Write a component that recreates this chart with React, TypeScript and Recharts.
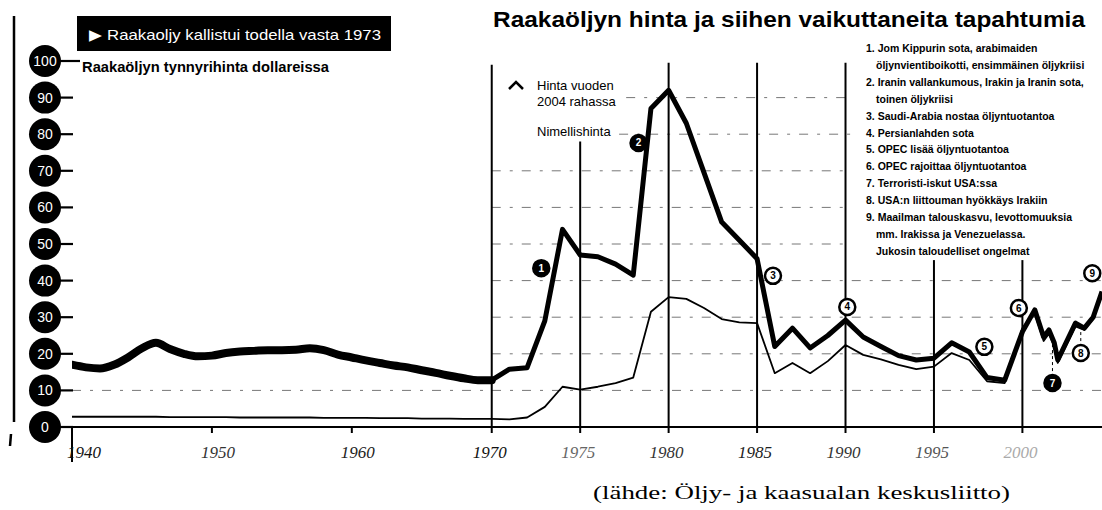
import React from 'react';
import {
  LineChart,
  Line,
  XAxis,
  YAxis,
  ReferenceLine,
  ReferenceDot,
} from 'recharts';

// Years of the readings (a few half-year points after 2000 to keep the zigzag)
const years = [
  1940, 1941, 1942, 1943, 1944, 1945, 1946, 1947, 1948, 1949,
  1950, 1951, 1952, 1953, 1954, 1955, 1956, 1957, 1958, 1959,
  1960, 1961, 1962, 1963, 1964, 1965, 1966, 1967, 1968, 1969,
  1970, 1971, 1972, 1973, 1974, 1975, 1976, 1977, 1978, 1979,
  1980, 1981, 1982, 1983, 1984, 1985, 1986, 1987, 1988, 1989,
  1990, 1991, 1992, 1993, 1994, 1995, 1996, 1997, 1998, 1999,
  2000, 2000.7, 2001.2, 2001.5, 2001.8, 2002, 2003, 2003.5, 2004, 2004.5,
];

// Hinta vuoden 2004 rahassa
const realPrice = [
  17, 16.3, 16, 17, 19, 21.5, 23, 21.3, 20, 19.3,
  19.5, 20.2, 20.6, 20.8, 21, 21, 21.1, 21.5, 21, 19.8,
  19, 18.2, 17.5, 16.8, 16.3, 15.5, 14.8, 14, 13.3, 12.8,
  12.8, 15.8, 16.2, 29, 54, 47, 46.5, 44.5, 41.5, 87,
  92, 83, 69.5, 56, 51, 46, 22, 27, 21.6, 25,
  29.2, 24.6, 22, 19.5, 18.3, 18.8, 23, 20.5, 13.5, 12.8,
  26, 32, 24.6, 26.5, 23, 18.3, 28.4, 27, 30, 37,
];

// Nimellishinta
const nominalPrice = [
  2.8, 2.8, 2.8, 2.8, 2.8, 2.8, 2.8, 2.7, 2.7, 2.7,
  2.7, 2.7, 2.6, 2.6, 2.6, 2.6, 2.6, 2.6, 2.5, 2.5,
  2.5, 2.5, 2.4, 2.4, 2.4, 2.3, 2.3, 2.3, 2.2, 2.2,
  2.2, 2.1, 2.6, 5.5, 11, 10.2, 11, 12, 13.5, 31.5,
  35.5, 35, 32.5, 29.5, 28.6, 28.4, 14.7, 17.5, 14.7, 18,
  22.4, 19.7, 18.5, 17, 15.8, 16.5, 20.2, 18.3, 12.5, 12,
  27, 31, 23.5, 25.5, 22, 17.5, 27.5, 26.5, 29.5, 36,
];

const yTicks = [0, 10, 20, 30, 40, 50, 60, 70, 80, 90, 100];
const xTickYears = [1940, 1950, 1960, 1970, 1975, 1980, 1985, 1990, 1995, 2000];
const xTickColors = ['#111', '#333', '#222', '#111', '#666', '#333', '#222', '#333', '#555', '#aaa'];

const dividerYears = [1970, 1975, 1980, 1985, 1990, 1995, 2000];
const dividerTops = [99, 78, 99.5, 99.5, 99.5, 45.6, 45.6];

// dashed guide lines: value, first year, last year
const gridValues = [10, 20, 30, 40, 50, 60, 70, 80, 90];
const gridFrom = [1940, 1970, 1970, 1970, 1970, 1970, 1970, 1977.2, 1977.6];
const gridTo = [2004.5, 2004.5, 2004.5, 2004.5, 1990.3, 1990.3, 1990.3, 1990.3, 1990.3];

// numbered event markers
const events: { n: number; year: number; value: number; filled: boolean; link?: number }[] = [
  { n: 1, year: 1972.8, value: 43.4, filled: true },
  { n: 2, year: 1978.3, value: 77.6, filled: true },
  { n: 3, year: 1985.9, value: 41.3, filled: false },
  { n: 4, year: 1990.1, value: 32.8, filled: false },
  { n: 5, year: 1997.85, value: 21.9, filled: false },
  { n: 6, year: 1999.8, value: 32.5, filled: false },
  { n: 7, year: 2001.7, value: 12, filled: true, link: 24 },
  { n: 8, year: 2003.3, value: 20.2, filled: false, link: 27 },
  { n: 9, year: 2003.95, value: 42, filled: false },
];

const eventLines: [string, boolean][] = [
  ['1. Jom Kippurin sota, arabimaiden', true],
  ['öljynvientiboikotti, ensimmäinen öljykriisi', false],
  ['2. Iranin vallankumous, Irakin ja Iranin sota,', true],
  ['toinen öljykriisi', false],
  ['3. Saudi-Arabia nostaa öljyntuotantoa', true],
  ['4. Persianlahden sota', true],
  ['5. OPEC lisää öljyntuotantoa', true],
  ['6. OPEC rajoittaa öljyntuotantoa', true],
  ['7. Terroristi-iskut USA:ssa', true],
  ['8. USA:n liittouman hyökkäys Irakiin', true],
  ['9. Maailman talouskasvu, levottomuuksia', true],
  ['mm. Irakissa ja Venezuelassa.', false],
  ['Jukosin taloudelliset ongelmat', false],
];

// the printed x axis is stretched after 1970
const pos = (year: number) =>
  year <= 1970 ? (year - 1940) * 14 : 420 + (year - 1970) * 17.7;

const data = years.map((y, i) => ({
  x: pos(y),
  real: realPrice[i],
  realEarly: y <= 1970 ? realPrice[i] : null,
  nominal: nominalPrice[i],
}));

const sans = '"Liberation Sans", Arial, sans-serif';

const CircleTick = (props: any) => {
  const { y, payload } = props;
  const v = payload.value;
  return (
    <g>
      <line x1={55} x2={v === 100 ? 80 : 73} y1={y} y2={y} stroke="#000" strokeWidth={2.2} />
      <circle cx={45} cy={y} r={16} fill="#000" />
      <text x={45} y={y} dy={5} textAnchor="middle" fill="#fff" fontSize={14} fontFamily={sans}>
        {v}
      </text>
    </g>
  );
};

const YearTick = (props: any) => {
  const { x, index } = props;
  const year = xTickYears[index];
  const dx = year === 1940 ? 12 : year < 1970 ? 6 : -2;
  return (
    <g>
      {year === 1940 && <line x1={x} x2={x} y1={427} y2={462} stroke="#000" strokeWidth={2} />}
      <text
        x={x + dx}
        y={458}
        textAnchor="middle"
        fontSize={17}
        fontStyle="italic"
        fontFamily='"Liberation Serif", serif'
        fill={xTickColors[index]}
      >
        {year}
      </text>
    </g>
  );
};

const App = () => {
  const xMax = pos(2004.5);
  return (
    <div style={{ position: 'absolute', left: 0, top: 0, width: 1102, height: 510, background: '#fff' }}>
      <LineChart
        width={1102}
        height={510}
        data={data}
        margin={{ top: 61, right: 0, left: 0, bottom: 0 }}
      >
        <XAxis
          dataKey="x"
          type="number"
          domain={[0, xMax]}
          ticks={xTickYears.map(pos)}
          tick={<YearTick />}
          height={83}
          axisLine={{ stroke: '#000', strokeWidth: 2 }}
          tickLine={{ stroke: '#000', strokeWidth: 2 }}
          tickSize={6}
          allowDataOverflow
        />
        <YAxis
          type="number"
          domain={[0, 100]}
          ticks={yTicks}
          width={72}
          axisLine={false}
          tickLine={false}
          tick={<CircleTick />}
          interval={0}
        />
        {gridValues.map((v, i) => (
          <ReferenceLine
            key={'g' + v}
            segment={[{ x: pos(gridFrom[i]), y: v }, { x: pos(gridTo[i]), y: v }]}
            stroke="#777"
            strokeWidth={1}
            strokeDasharray="9 9 3 9"
          />
        ))}
        {dividerYears.map((yr, i) => (
          <ReferenceLine
            key={'d' + yr}
            segment={[{ x: pos(yr), y: 0 }, { x: pos(yr), y: dividerTops[i] }]}
            stroke="#000"
            strokeWidth={2}
          />
        ))}
        <Line
          dataKey="nominal"
          type="linear"
          stroke="#000"
          strokeWidth={1.8}
          dot={false}
          isAnimationActive={false}
          strokeLinejoin="round"
        />
        <Line
          dataKey="realEarly"
          type="monotone"
          stroke="#000"
          strokeWidth={8}
          dot={false}
          isAnimationActive={false}
          strokeLinecap="round"
          connectNulls={false}
        />
        <Line
          dataKey="real"
          type="linear"
          stroke="#000"
          strokeWidth={5}
          dot={false}
          isAnimationActive={false}
          strokeLinejoin="round"
        />
        {events
          .filter((e) => e.link !== undefined)
          .map((e) => (
            <ReferenceLine
              key={'l' + e.n}
              segment={[{ x: pos(e.year), y: e.value }, { x: pos(e.year), y: e.link as number }]}
              stroke="#000"
              strokeWidth={1}
              strokeDasharray="3 3"
            />
          ))}
        {events.map((e) => (
          <ReferenceDot
            key={'e' + e.n}
            x={pos(e.year)}
            y={e.value}
            r={8}
            shape={(p: any) => (
              <g>
                <circle
                  cx={p.cx}
                  cy={p.cy}
                  r={8}
                  fill={e.filled ? '#000' : '#fff'}
                  stroke="#000"
                  strokeWidth={2.5}
                />
                <text
                  x={p.cx}
                  y={p.cy}
                  dy={3.5}
                  textAnchor="middle"
                  fontSize={10}
                  fontWeight="bold"
                  fontFamily={sans}
                  fill={e.filled ? '#fff' : '#000'}
                >
                  {e.n}
                </text>
              </g>
            )}
          />
        ))}
      </LineChart>

      <svg
        width={1102}
        height={510}
        style={{ position: 'absolute', left: 0, top: 0, pointerEvents: 'none' }}
      >
        <line x1={14} x2={14} y1={16} y2={422} stroke="#000" strokeWidth={2.5} />
        <line x1={11} x2={10} y1={434} y2={446} stroke="#000" strokeWidth={2.5} />

        <rect x={77} y={16} width={314} height={35} fill="#000" />
        <text
          x={89}
          y={40}
          fill="#fff"
          fontSize={15}
          fontFamily={sans}
          textLength={292}
          lengthAdjust="spacingAndGlyphs"
        >
          ▶ Raakaoljy kallistui todella vasta 1973
        </text>
        <text
          x={82}
          y={72}
          fontSize={15}
          fontWeight="bold"
          fontFamily={sans}
          textLength={247}
          lengthAdjust="spacingAndGlyphs"
        >
          Raakaöljyn tynnyrihinta dollareissa
        </text>

        <text
          x={493}
          y={27}
          fontSize={22}
          fontWeight="bold"
          fontFamily={sans}
          textLength={592}
          lengthAdjust="spacingAndGlyphs"
        >
          Raakaöljyn hinta ja siihen vaikuttaneita tapahtumia
        </text>

        <path d="M509,89 L516,82 L523,89" fill="none" stroke="#000" strokeWidth={2.5} />
        <text x={537} y={90} fontSize={13} fontFamily={sans}>Hinta vuoden</text>
        <text x={537} y={106} fontSize={13} fontFamily={sans}>2004 rahassa</text>
        <text x={537} y={136} fontSize={13} fontFamily={sans}>Nimellishinta</text>

        {eventLines.map(([t, numbered], i) => (
          <text
            key={i}
            x={numbered ? 866 : 876}
            y={52 + i * 16.9}
            fontSize={10.5}
            fontWeight="bold"
            fontFamily={sans}
          >
            {t}
          </text>
        ))}

        <text
          x={593}
          y={499}
          fontSize={18}
          fontFamily='"Liberation Serif", serif'
          textLength={417}
          lengthAdjust="spacingAndGlyphs"
        >
          (lähde: Öljy- ja kaasualan keskusliitto)
        </text>
      </svg>
    </div>
  );
};

export default App;
